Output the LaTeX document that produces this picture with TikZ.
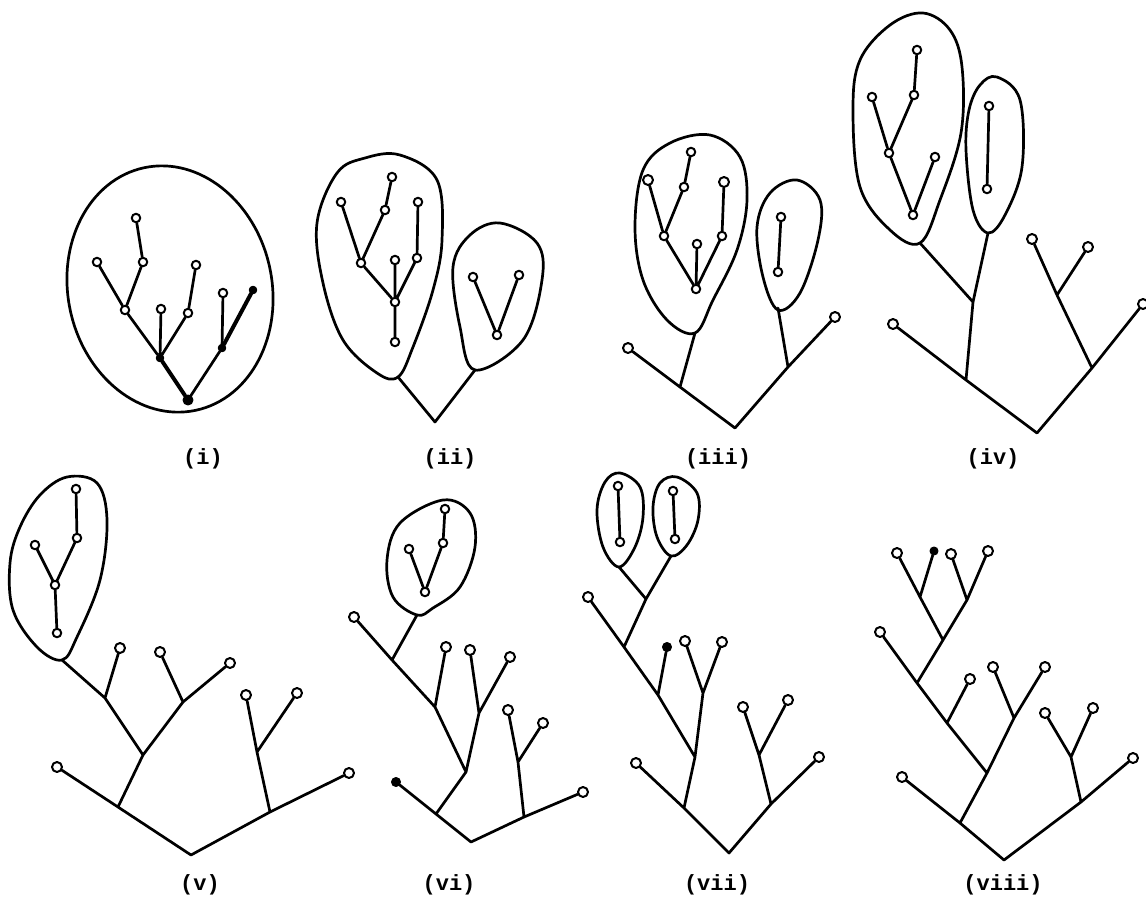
\documentclass[tikz,border=0pt]{standalone}
\usepackage{fontspec}
\newfontfamily\labfont{Liberation Mono}
\begin{document}
\begin{tikzpicture}[x=1pt,y=-1pt,line cap=round,line join=round,
  leaf/.style={circle,draw,line width=2pt,minimum size=10pt,inner sep=0pt,fill=white},
  sleaf/.style={leaf,minimum size=8.5pt},
  fleaf/.style={circle,draw,fill=black,line width=1pt,minimum size=7.5pt,inner sep=0pt},
  edge/.style={line width=2.7pt},
  thick edge/.style={line width=4pt},
  blob/.style={line width=2.7pt},
  lab/.style={font=\labfont\bfseries\fontsize{22}{24}\selectfont,inner sep=0pt}]
\useasboundingbox (0,0) rectangle (1146,898);

% ---------------- (i)
\draw[blob,rotate around={12:(170,289)}] (170,289) ellipse [x radius=102, y radius=124];
\node[sleaf] (ia) at (136,218) {};
\node[sleaf] (ib) at (143,262) {};
\node[sleaf] (ic) at (97,262) {};
\node[sleaf] (id) at (125,310) {};
\node[sleaf] (ie) at (196,265) {};
\node[sleaf] (if) at (161,309) {};
\node[sleaf] (ig) at (188,313) {};
\node[fleaf] (ih) at (160,358) {};
\node[sleaf] (ii) at (223,293) {};
\node[fleaf] (ij) at (253,290) {};
\node[fleaf] (ik) at (222,348) {};
\node[fleaf,minimum size=10pt] (ir) at (188,400) {};
\draw[edge] (ia)--(ib) (ib)--(id) (ic)--(id) (id)--(ih) (if)--(ih) (ig)--(ih) (ie)--(ig) (ii)--(ik) (ik)--(ir);
\draw[thick edge] (ih)--(ir) (ij)--(ik);
\node[lab] (li) at (203,459) {(i)};

% ---------------- (ii)
\draw[blob] plot[smooth cycle,tension=0.6] coordinates {(317,223) (337,173) (365,158) (400,155) (437,180) (442,240) (433,290) (413,347) (398,377) (377,373) (343,340) (323,283)};
\draw[blob] plot[smooth cycle,tension=0.6] coordinates {(453,267) (470,235) (500,223) (537,243) (542,280) (523,340) (475,370) (460,327)};
\node[sleaf] (iit) at (392,177) {};
\node[sleaf] (iiu) at (385,210) {};
\node[sleaf] (iil) at (341,202) {};
\node[sleaf] (iim) at (361,263) {};
\node[sleaf] (iirt) at (418,202) {};
\node[sleaf] (iirm) at (417,258) {};
\node[sleaf] (iis) at (395,260) {};
\node[sleaf] (iin) at (395,302) {};
\node[sleaf] (iib) at (395,342) {};
\node[sleaf] (iip) at (473,277) {};
\node[sleaf] (iiq) at (519,275) {};
\node[sleaf] (iiv) at (497,335) {};
\coordinate (iilb) at (398,377);
\coordinate (iirb) at (475,370);
\coordinate (iiroot) at (435,422);
\draw[edge] (iit)--(iiu) (iiu)--(iim) (iil)--(iim) (iim)--(iin) (iis)--(iin) (iirt)--(iirm) (iirm)--(iin) (iin)--(iib) (iip)--(iiv) (iiq)--(iiv);
\draw[edge] (iilb)--(iiroot)--(iirb);
\node[lab] (lii) at (450,459) {(ii)};

% ---------------- (iii)
\draw[blob] plot[smooth cycle,tension=0.6] coordinates {(643,170) (670,143) (710,135) (740,157) (747,200) (737,250) (713,300) (695,333) (667,320) (643,280) (635,227)};
\draw[blob] plot[smooth cycle,tension=0.6] coordinates {(757,227) (770,193) (797,180) (820,200) (818,240) (800,293) (778,310) (763,277)};
\node[sleaf] (iiit) at (691,152) {};
\node[sleaf] (iiiu) at (684,187) {};
\node[leaf] (iiil) at (648,180) {};
\node[sleaf] (iiim) at (664,236) {};
\node[leaf] (iiirt) at (724,182) {};
\node[sleaf] (iiirm) at (722,236) {};
\node[sleaf] (iiis) at (697,244) {};
\node[sleaf] (iiin) at (696,289) {};
\node[sleaf] (iiip) at (781,217) {};
\node[sleaf] (iiiq) at (778,272) {};
\node[leaf] (iiill) at (628,348) {};
\node[leaf] (iiirl) at (835,317) {};
\coordinate (iiilb) at (695,333);
\coordinate (iiija) at (680,387);
\coordinate (iiiroot) at (735,428);
\coordinate (iiirj) at (788,367);
\coordinate (iiirb) at (778,308);
\draw[edge] (iiit)--(iiiu) (iiiu)--(iiim) (iiil)--(iiim) (iiim)--(iiin) (iiis)--(iiin) (iiirt)--(iiirm) (iiirm)--(iiin) (iiip)--(iiiq);
\draw[edge] (iiill)--(iiija)--(iiiroot)--(iiirj)--(iiirl) (iiilb)--(iiija) (iiirb)--(iiirj);
\node[lab] (liii) at (718,459) {(iii)};

% ---------------- (iv)
\draw[blob] plot[smooth cycle,tension=0.6] coordinates {(860,60) (890,25) (923,13) (950,30) (962,67) (961,133) (940,200) (920,243) (890,230) (860,187) (853,110)};
\draw[blob] plot[smooth cycle,tension=0.6] coordinates {(966,150) (969,110) (980,85) (997,77) (1020,100) (1022,167) (1005,215) (988,233) (973,210)};
\node[sleaf] (ivt) at (917,50) {};
\node[sleaf] (ivu) at (914,95) {};
\node[sleaf] (ivl) at (872,97) {};
\node[sleaf] (ivm) at (889,153) {};
\node[sleaf] (ivs) at (935,157) {};
\node[sleaf] (ivn) at (913,215) {};
\node[sleaf] (ivp) at (989,106) {};
\node[sleaf] (ivq) at (987,189) {};
\node[leaf] (ivll) at (893,324) {};
\node[leaf] (ivrl) at (1143,304) {};
\node[leaf] (ivx) at (1032,239) {};
\node[leaf] (ivy) at (1088,247) {};
\coordinate (ivlb) at (920,243);
\coordinate (ivrb) at (988,233);
\coordinate (ivja) at (973,302);
\coordinate (ivjb) at (966,380);
\coordinate (ivroot) at (1037,433);
\coordinate (ivrj) at (1092,368);
\coordinate (ivsj) at (1057,295);
\draw[edge] (ivt)--(ivu) (ivu)--(ivm) (ivl)--(ivm) (ivm)--(ivn) (ivs)--(ivn) (ivp)--(ivq);
\draw[edge] (ivlb)--(ivja) (ivrb)--(ivja) (ivja)--(ivjb) (ivll)--(ivjb)--(ivroot)--(ivrj)--(ivrl) (ivrj)--(ivsj) (ivsj)--(ivx) (ivsj)--(ivy);
\node[lab] (liv) at (993,459) {(iv)};

% ---------------- (v)
\draw[blob] plot[smooth cycle,tension=0.6] coordinates {(10,563) (20,527) (40,495) (67,477) (97,483) (107,520) (100,580) (77,637) (62,660) (37,647) (13,610)};
\node[sleaf] (vt) at (76,489) {};
\node[sleaf] (vu) at (77,538) {};
\node[sleaf] (vl) at (35,545) {};
\node[sleaf] (vm) at (55,585) {};
\node[sleaf] (vb) at (57,633) {};
\node[leaf] (vla) at (120,648) {};
\node[leaf] (vlb) at (160,652) {};
\node[leaf] (vlc) at (230,663) {};
\node[leaf] (vll) at (57,767) {};
\node[leaf] (vrl) at (349,773) {};
\node[leaf] (vx) at (246,695) {};
\node[leaf] (vy) at (297,693) {};
\coordinate (vb0) at (62,660);
\coordinate (vj1) at (105,698);
\coordinate (vj2) at (143,755);
\coordinate (vj3) at (183,702);
\coordinate (vjl) at (118,807);
\coordinate (vroot) at (191,855);
\coordinate (vjr) at (270,812);
\coordinate (vrj) at (257,752);
\draw[edge] (vt)--(vu) (vu)--(vm) (vl)--(vm) (vm)--(vb);
\draw[edge] (vb0)--(vj1)--(vj2)--(vjl) (vla)--(vj1) (vlb)--(vj3) (vlc)--(vj3) (vj3)--(vj2) (vll)--(vjl)--(vroot)--(vjr)--(vrl) (vjr)--(vrj) (vrj)--(vx) (vrj)--(vy);
\node[lab] (lv) at (200,885) {(v)};

% ---------------- (vi)
\draw[blob] plot[smooth cycle,tension=0.6] coordinates {(387,560) (400,523) (443,500) (470,513) (475,547) (460,587) (433,608) (417,615) (393,597)};
\node[sleaf] (vit) at (445,509) {};
\node[sleaf] (viu) at (443,543) {};
\node[sleaf] (vil) at (409,549) {};
\node[sleaf] (vib) at (425,592) {};
\node[leaf] (vila) at (354,617) {};
\node[leaf] (vilb) at (446,647) {};
\node[leaf] (vilc) at (470,650) {};
\node[leaf] (vild) at (510,657) {};
\node[fleaf,minimum size=9pt] (vill) at (396,782) {};
\node[leaf] (virl) at (583,792) {};
\node[leaf] (vix) at (508,710) {};
\node[leaf] (viy) at (543,723) {};
\coordinate (vib0) at (417,615);
\coordinate (viA) at (392,660);
\coordinate (viB) at (435,707);
\coordinate (viC) at (466,772);
\coordinate (viD) at (479,713);
\coordinate (viJ) at (436,814);
\coordinate (viroot) at (471,842);
\coordinate (viRJ) at (524,817);
\coordinate (viSJ) at (518,762);
\draw[edge] (vit)--(viu) (viu)--(vib) (vil)--(vib);
\draw[edge] (vib0)--(viA)--(viB)--(viC)--(viJ) (vila)--(viA) (vilb)--(viB) (vilc)--(viD) (vild)--(viD) (viD)--(viC) (vill)--(viJ)--(viroot)--(viRJ)--(virl) (viRJ)--(viSJ) (viSJ)--(vix) (viSJ)--(viy);
\node[lab] (lvi) at (449,885) {(vi)};

% ---------------- (vii)
\draw[blob] plot[smooth cycle,tension=0.6] coordinates {(597,510) (605,482) (620,473) (640,487) (643,517) (635,547) (619,567) (603,547)};
\draw[blob] plot[smooth cycle,tension=0.6] coordinates {(653,507) (660,483) (677,477) (697,493) (698,520) (687,545) (671,556) (657,537)};
\node[sleaf] (viip) at (618,486) {};
\node[sleaf] (viiq) at (620,542) {};
\node[sleaf] (viir) at (673,491) {};
\node[sleaf] (viis) at (675,539) {};
\node[leaf] (viila) at (588,597) {};
\node[fleaf,minimum size=9pt] (viilb) at (667,647) {};
\node[leaf] (viilc) at (685,641) {};
\node[leaf] (viild) at (722,642) {};
\node[leaf] (viill) at (636,763) {};
\node[leaf] (viirl) at (819,757) {};
\node[leaf] (viix) at (743,707) {};
\node[leaf] (viiy) at (788,700) {};
\coordinate (viib1) at (619,567);
\coordinate (viib2) at (671,556);
\coordinate (viiA) at (646,599);
\coordinate (viiB) at (624,647);
\coordinate (viiC) at (658,695);
\coordinate (viiD) at (703,693);
\coordinate (viiE) at (695,757);
\coordinate (viiJ) at (684,808);
\coordinate (viiroot) at (729,853);
\coordinate (viiRJ) at (771,804);
\coordinate (viiSJ) at (759,755);
\draw[edge] (viip)--(viiq) (viir)--(viis);
\draw[edge] (viib1)--(viiA) (viib2)--(viiA) (viiA)--(viiB)--(viiC)--(viiE)--(viiJ) (viila)--(viiB) (viilb)--(viiC) (viilc)--(viiD) (viild)--(viiD) (viiD)--(viiE) (viill)--(viiJ)--(viiroot)--(viiRJ)--(viirl) (viiRJ)--(viiSJ) (viiSJ)--(viix) (viiSJ)--(viiy);
\node[lab] (lvii) at (717,885) {(vii)};

% ---------------- (viii)
\node[leaf] (viiia) at (897,553) {};
\node[fleaf,minimum size=8pt] (viiib) at (934,551) {};
\node[leaf] (viiic) at (951,554) {};
\node[leaf] (viiid) at (988,551) {};
\node[leaf] (viiie) at (880,632) {};
\node[leaf] (viiif) at (970,679) {};
\node[leaf] (viiig) at (993,667) {};
\node[leaf] (viiih) at (1045,667) {};
\node[leaf] (viiix) at (1045,713) {};
\node[leaf] (viiiy) at (1093,708) {};
\node[leaf] (viiirl) at (1133,758) {};
\node[leaf] (viiill) at (902,777) {};
\coordinate (viiij1) at (920,597);
\coordinate (viiij2) at (967,600);
\coordinate (viiij3) at (943,640);
\coordinate (viiij4) at (917,683);
\coordinate (viiij5) at (947,723);
\coordinate (viiij6) at (1014,718);
\coordinate (viiij7) at (987,773);
\coordinate (viiiJ) at (960,823);
\coordinate (viiiroot) at (1004,860);
\coordinate (viiiRJ) at (1081,802);
\coordinate (viiiSJ) at (1071,757);
\draw[edge] (viiia)--(viiij1) (viiib)--(viiij1) (viiic)--(viiij2) (viiid)--(viiij2) (viiij1)--(viiij3) (viiij2)--(viiij3) (viiij3)--(viiij4) (viiie)--(viiij4) (viiij4)--(viiij5) (viiif)--(viiij5) (viiij5)--(viiij7) (viiig)--(viiij6) (viiih)--(viiij6) (viiij6)--(viiij7) (viiij7)--(viiiJ) (viiill)--(viiiJ)--(viiiroot)--(viiiRJ)--(viiirl) (viiiRJ)--(viiiSJ) (viiiSJ)--(viiix) (viiiSJ)--(viiiy);
\node[lab] (lviii) at (1003,885) {(viii)};
\end{tikzpicture}
\end{document}
